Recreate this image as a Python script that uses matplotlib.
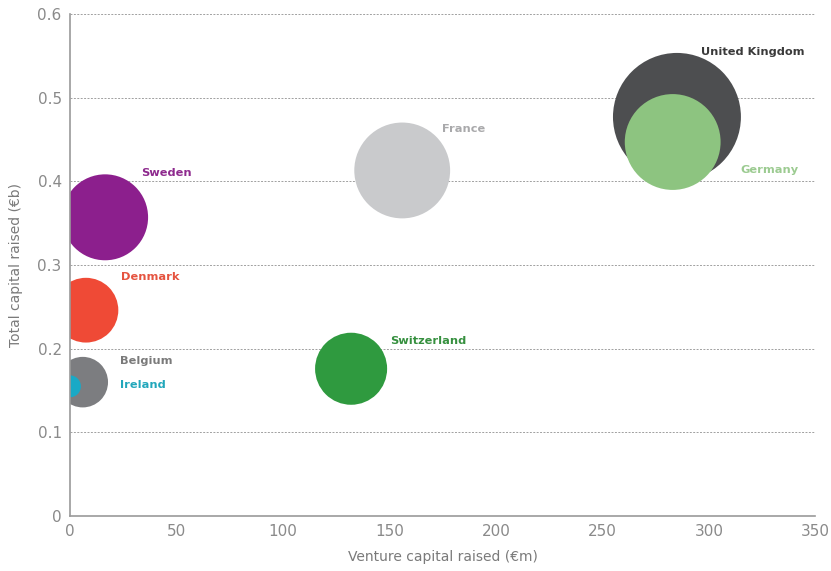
import matplotlib
matplotlib.use('Agg')
import matplotlib.pyplot as plt
import numpy as np

# data
countries = ["United Kingdom", "Germany", "France", "Sweden",
             "Denmark", "Switzerland", "Belgium", "Ireland"]
venture_capital = [285, 283, 156, 16.5, 7.5, 132, 6, 0]          # EUR m
total_capital = [0.477, 0.447, 0.413, 0.357, 0.246, 0.176, 0.160, 0.155]  # EUR b
bubble_value = [41, 23, 23, 18.5, 10.5, 13, 6.4, 1.2]          # relative bubble area

bubble_colors = ["#4d4e50", "#8dc480", "#c9cacc", "#8c1f8d",
                 "#ef4a36", "#2f9a3f", "#7c7d80", "#19a9c6"]
label_colors = ["#3a3a3a", "#9ccb91", "#a9a9ab", "#8e2a8e",
                "#e5533f", "#36903f", "#7a7a7a", "#22a7bb"]
# label offset from bubble centre, in points
label_offsets = [(17, 47), (49, -20), (29, 30), (26, 32),
                 (25, 24), (28, 20), (27, 15), (36, 1)]

fig = plt.figure(figsize=(8.31, 5.71), dpi=100)
ax = fig.add_axes([0.0842, 0.0963, 0.897, 0.8792])

sizes = np.array(bubble_value) * 207
ax.scatter(venture_capital, total_capital, s=sizes, c=bubble_colors,
           edgecolors='none', zorder=3)

for i, name in enumerate(countries):
    ax.annotate(name, (venture_capital[i], total_capital[i]),
                xytext=label_offsets[i], textcoords='offset points',
                color=label_colors[i], fontsize=8.2, fontweight='bold',
                ha='left', va='center', zorder=4)

ax.set_xlim(0, 350)
ax.set_ylim(0, 0.6)
ax.set_xticks([0, 50, 100, 150, 200, 250, 300, 350])
ax.set_yticks([0, 0.1, 0.2, 0.3, 0.4, 0.5, 0.6])
ax.set_yticklabels(["0", "0.1", "0.2", "0.3", "0.4", "0.5", "0.6"])

ax.grid(axis='y', linestyle=(0, (2, 1.5)), color='#a0a0a0', linewidth=0.7)
ax.set_axisbelow(True)
for s in ['top', 'right']:
    ax.spines[s].set_visible(False)
for s in ['left', 'bottom']:
    ax.spines[s].set_color('#9a9a9a')
    ax.spines[s].set_linewidth(1.2)
    ax.spines[s].set_zorder(5)

ax.tick_params(length=0, labelsize=11, colors='#8a8a8a', pad=6)
ax.set_xlabel("Venture capital raised (€m)", fontsize=10, color='#7a7a7a', labelpad=8)
ax.set_ylabel("Total capital raised (€b)", fontsize=10, color='#7a7a7a', labelpad=10)

plt.savefig("out.png", dpi=100)
plt.close()
